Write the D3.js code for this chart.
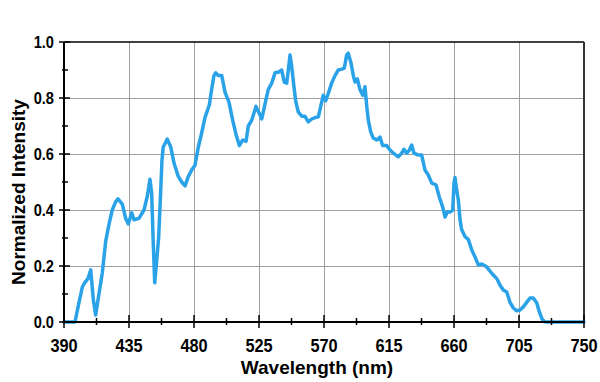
<!DOCTYPE html>
<html><head><meta charset="utf-8">
<script src="https://cdn.jsdelivr.net/npm/d3@7"></script>
<style>html,body{margin:0;padding:0;background:#fff;}svg{display:block;}</style>
</head><body>
<script>
const wavelength = [390,397.6,400.4,402.7,404.3,406.6,408.5,410.3,411.9,414.2,416.5,418.9,421.2,423.4,425.8,427.4,430.4,432.7,434.5,436.9,438.5,441.9,445.4,447.7,449.5,450.7,451.8,452.8,454.2,455.5,456.8,457.8,458.7,461.5,463.9,466.2,469.1,471.5,473.8,476.1,478.4,480.7,483.0,485.3,487.6,490.6,492.2,493.8,495.0,496.8,499.2,501.5,504.2,506.8,509.1,511.4,513.7,516.0,517.6,519.9,522.9,525.2,526.9,529.2,531.4,533.8,536.1,538.8,540.7,542.5,544.2,545.3,546.5,547.7,549.2,550.4,552.2,554.6,556.8,559.1,561.5,563.8,566.1,568.4,569.5,571.2,573.0,575.3,577.6,579.9,582.3,584.1,585.7,586.8,588.7,590.3,591.5,593.1,594.9,596.8,598.4,599.6,600.7,602.3,604.1,606.5,608.8,610.6,613.4,615.7,618.0,621.4,623.8,625.4,627.3,629.1,630.7,632.3,635.3,637.6,639.9,642.2,644.6,647.5,649.8,652.2,653.8,655.4,657.2,659.1,660.0,660.7,661.9,663.0,664.2,665.3,667.6,669.9,672.3,674.5,676.8,679.2,682.6,686.1,689.6,691.8,694.1,696.5,698.8,701.1,703.4,705.7,708.0,710.3,712.6,714.9,717.3,719.1,721.0,723.0,750];
const intensity = [0,0,0.07,0.125,0.14,0.155,0.186,0.08,0.025,0.10,0.175,0.29,0.35,0.40,0.43,0.44,0.42,0.37,0.35,0.39,0.365,0.37,0.40,0.45,0.51,0.46,0.28,0.14,0.22,0.30,0.45,0.575,0.625,0.653,0.625,0.567,0.52,0.50,0.486,0.52,0.543,0.56,0.625,0.675,0.73,0.775,0.83,0.88,0.89,0.88,0.88,0.82,0.785,0.72,0.67,0.63,0.65,0.645,0.70,0.72,0.77,0.745,0.725,0.78,0.83,0.853,0.89,0.893,0.90,0.857,0.853,0.90,0.954,0.91,0.84,0.79,0.75,0.735,0.735,0.715,0.725,0.73,0.733,0.785,0.81,0.79,0.817,0.853,0.88,0.90,0.903,0.907,0.954,0.96,0.925,0.88,0.857,0.868,0.83,0.81,0.84,0.77,0.72,0.68,0.657,0.65,0.66,0.63,0.63,0.614,0.603,0.59,0.603,0.617,0.603,0.614,0.632,0.603,0.596,0.596,0.543,0.525,0.496,0.49,0.447,0.41,0.375,0.393,0.393,0.40,0.496,0.516,0.47,0.436,0.364,0.33,0.305,0.295,0.257,0.233,0.204,0.207,0.197,0.174,0.155,0.132,0.114,0.107,0.07,0.05,0.04,0.043,0.054,0.07,0.086,0.086,0.068,0.036,0.01,0,0];
const xTicks = [390,435,480,525,570,615,660,705,750];
const yTicks = [0,0.2,0.4,0.6,0.8,1.0];
const xLabel = "Wavelength (nm)";
const yLabel = "Normalized Intensity";

const W = 600, H = 382;
const L = 64, R = 584, T = 42, B = 322;
const svg = d3.select("body").append("svg").attr("width", W).attr("height", H);
const x = d3.scaleLinear().domain([390, 750]).range([L, R]);
const y = d3.scaleLinear().domain([0, 1]).range([B, T]);

// grid
svg.append("g").selectAll("line").data(xTicks.slice(1, -1)).join("line")
  .attr("x1", d => x(d)).attr("x2", d => x(d)).attr("y1", T).attr("y2", B)
  .attr("stroke", "#a0a0a0").attr("stroke-width", 1).attr("shape-rendering", "crispEdges");
svg.append("g").selectAll("line").data(yTicks.slice(1, -1)).join("line")
  .attr("y1", d => y(d)).attr("y2", d => y(d)).attr("x1", L).attr("x2", R)
  .attr("stroke", "#a0a0a0").attr("stroke-width", 1).attr("shape-rendering", "crispEdges");

// frame top/right
svg.append("line").attr("x1", L).attr("x2", R).attr("y1", T).attr("y2", T).attr("stroke", "#000").attr("stroke-width", 1.5);
svg.append("line").attr("x1", R).attr("x2", R).attr("y1", T).attr("y2", B).attr("stroke", "#333").attr("stroke-width", 2);

// line
const line = d3.line().x((d, i) => x(wavelength[i])).y(d => y(d));
svg.append("path").datum(intensity).attr("d", line)
  .attr("fill", "none").attr("stroke", "#2aa2e8").attr("stroke-width", 3.5)
  .attr("stroke-linejoin", "round").attr("stroke-linecap", "round");

// axes
const font = "'Liberation Sans', Arial, sans-serif";
const minorX = d3.range(412.5, 750, 45);
const minorY = d3.range(0.1, 1, 0.2);
const gx = svg.append("g");
gx.append("line").attr("x1", L).attr("x2", R).attr("y1", B).attr("y2", B).attr("stroke", "#000").attr("stroke-width", 2);
gx.selectAll(".maj").data(xTicks).join("line").attr("class", "maj")
  .attr("x1", d => x(d)).attr("x2", d => x(d)).attr("y1", B - 7).attr("y2", B + 6)
  .attr("stroke", "#000").attr("stroke-width", 1.5);
gx.selectAll(".min").data(minorX).join("line").attr("class", "min")
  .attr("x1", d => x(d)).attr("x2", d => x(d)).attr("y1", B - 4).attr("y2", B + 3)
  .attr("stroke", "#000").attr("stroke-width", 1.5);
gx.selectAll("text").data(xTicks).join("text")
  .attr("transform", d => `translate(${x(d)},${B + 30}) scale(0.86,1)`)
  .attr("text-anchor", "middle").attr("font-family", font).attr("font-weight", "bold")
  .attr("font-size", 19).text(d => d);

const gy = svg.append("g");
gy.append("line").attr("x1", L).attr("x2", L).attr("y1", T).attr("y2", B).attr("stroke", "#000").attr("stroke-width", 2);
gy.selectAll(".maj").data(yTicks).join("line").attr("class", "maj")
  .attr("y1", d => y(d)).attr("y2", d => y(d)).attr("x1", L - 5).attr("x2", L + 6)
  .attr("stroke", "#000").attr("stroke-width", 1.5);
gy.selectAll(".min").data(minorY).join("line").attr("class", "min")
  .attr("y1", d => y(d)).attr("y2", d => y(d)).attr("x1", L - 2).attr("x2", L + 4)
  .attr("stroke", "#000").attr("stroke-width", 1.5);
gy.selectAll("text").data(yTicks).join("text")
  .attr("transform", d => `translate(${L - 10},${y(d) + 6}) scale(0.86,1)`)
  .attr("text-anchor", "end").attr("font-family", font).attr("font-weight", "bold")
  .attr("font-size", 17).text(d => d.toFixed(1));

svg.append("text").attr("x", 317).attr("y", 374).attr("text-anchor", "middle")
  .attr("font-family", font).attr("font-weight", "bold").attr("font-size", 19).text(xLabel);
svg.append("text").attr("transform", "translate(25,192) rotate(-90)").attr("text-anchor", "middle")
  .attr("font-family", font).attr("font-weight", "bold").attr("font-size", 19).text(yLabel);
</script>
</body></html>
